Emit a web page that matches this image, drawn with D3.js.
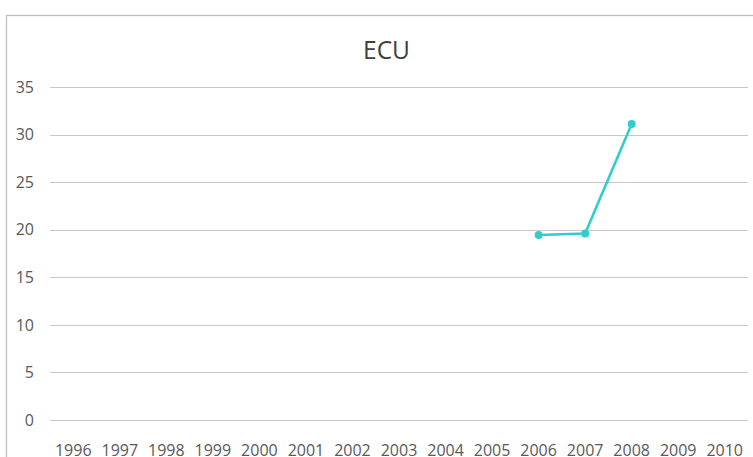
<!DOCTYPE html>
<html>
<head>
<meta charset="utf-8">
<script src="https://cdn.jsdelivr.net/npm/d3@7"></script>
<style>
  body { margin: 0; background: #fff; }
  svg { display: block; }
</style>
</head>
<body>
<div id="chart"></div>
<script>
var width = 753;
var height = 457;

var years = ["1996","1997","1998","1999","2000","2001","2002","2003","2004","2005","2006","2007","2008","2009","2010"];
var yTicks = [0, 5, 10, 15, 20, 25, 30, 35];
var ecuYears = ["2006", "2007", "2008"];
var ecuValues = [19.45, 19.6, 31.1];

var margin = {left: 50, right: 5, top: 87, bottom: 37};

var svg = d3.select("#chart")
            .append("svg")
            .attr("width", width)
            .attr("height", height);

// chart frame
svg.append("rect")
   .attr("x", 6.5)
   .attr("y", 15.5)
   .attr("width", 760)
   .attr("height", 460)
   .attr("fill", "#fff")
   .attr("stroke", "#bfbfbf")
   .attr("stroke-width", 1.3);

var x = d3.scaleBand()
          .domain(years)
          .range([margin.left, width - margin.right]);

var y = d3.scaleLinear()
          .domain([0, 35])
          .range([height - margin.bottom, margin.top]);

// gridlines
svg.append("g")
   .selectAll("line")
   .data(yTicks)
   .enter()
   .append("line")
   .attr("x1", margin.left)
   .attr("x2", width - margin.right)
   .attr("y1", function(d) { return Math.round(y(d)) + 0.5; })
   .attr("y2", function(d) { return Math.round(y(d)) + 0.5; })
   .attr("stroke", "#c9c9c9")
   .attr("stroke-width", 1.2);

// y labels
svg.append("g")
   .selectAll("text")
   .data(yTicks)
   .enter()
   .append("text")
   .attr("x", 34)
   .attr("y", function(d) { return y(d); })
   .attr("dy", "0.36em")
   .attr("text-anchor", "end")
   .style("font-family", "'Open Sans', sans-serif")
   .style("font-size", "16px")
   .style("fill", "#595959")
   .text(function(d) { return d; });

// x labels (cut by the bottom edge, as in the original)
svg.append("g")
   .selectAll("text")
   .data(years)
   .enter()
   .append("text")
   .attr("x", function(d) { return x(d) + x.bandwidth() / 2; })
   .attr("y", 456)
   .attr("text-anchor", "middle")
   .style("font-family", "'Open Sans', sans-serif")
   .style("font-size", "16px")
   .style("fill", "#595959")
   .text(function(d) { return d; });

// title
svg.append("text")
   .attr("x", 386.5)
   .attr("y", 59)
   .attr("text-anchor", "middle")
   .attr("textLength", 47)
   .attr("lengthAdjust", "spacingAndGlyphs")
   .style("font-family", "'Open Sans', sans-serif")
   .style("font-size", "26px")
   .style("fill", "#404040")
   .text("ECU");

var points = ecuYears.map(function(yr, i) { return {year: yr, value: ecuValues[i]}; });

var line = d3.line()
             .x(function(d) { return x(d.year) + x.bandwidth() / 2; })
             .y(function(d) { return y(d.value); });

svg.append("path")
   .datum(points)
   .attr("d", line)
   .attr("fill", "none")
   .attr("stroke", "#33cccc")
   .attr("stroke-width", 2.6)
   .attr("stroke-linejoin", "round");

svg.append("g")
   .selectAll("circle")
   .data(points)
   .enter()
   .append("circle")
   .attr("cx", function(d) { return x(d.year) + x.bandwidth() / 2; })
   .attr("cy", function(d) { return y(d.value); })
   .attr("r", 4)
   .attr("fill", "#33cccc");
</script>
</body>
</html>
